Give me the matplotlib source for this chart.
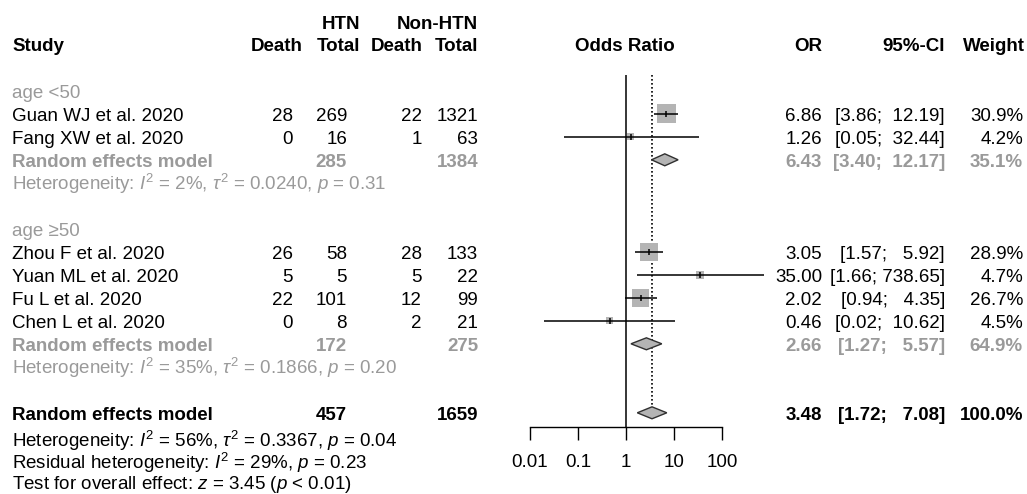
# Forest plot: hypertension and death, subgroups by age
import numpy as np
import matplotlib.pyplot as plt
import matplotlib.transforms as mtransforms

plt.rcParams['font.family'] = ['Liberation Sans', 'DejaVu Sans']
plt.rcParams['mathtext.fontset'] = 'custom'
plt.rcParams['mathtext.rm'] = 'Liberation Sans'
plt.rcParams['mathtext.it'] = 'Liberation Sans:italic'
plt.rcParams['mathtext.bf'] = 'Liberation Sans:bold'

# Study level data
studies = ["Guan WJ et al. 2020", "Fang XW et al. 2020", "Zhou F et al. 2020",
           "Yuan ML et al. 2020", "Fu L et al. 2020", "Chen L et al. 2020"]
study_group = [0, 0, 1, 1, 1, 1]
htn_death = [28, 0, 26, 5, 22, 0]
htn_total = [269, 16, 58, 5, 101, 8]
non_death = [22, 1, 28, 5, 12, 2]
non_total = [1321, 63, 133, 22, 99, 21]
or_est = [6.86, 1.26, 3.05, 35.00, 2.02, 0.46]
ci_lo = [3.86, 0.05, 1.57, 1.66, 0.94, 0.02]
ci_hi = [12.19, 32.44, 5.92, 738.65, 4.35, 10.62]
weight = [30.9, 4.2, 28.9, 4.7, 26.7, 4.5]

# Subgroup summaries
groups = ["age <50", "age \u226550"]
sub_htn_total = [285, 172]
sub_non_total = [1384, 275]
sub_or = [6.43, 2.66]
sub_lo = [3.40, 1.27]
sub_hi = [12.17, 5.57]
sub_weight = [35.1, 64.9]
sub_i2 = [2, 35]
sub_tau2 = ["0.0240", "0.1866"]
sub_p = ["0.31", "0.20"]

# Overall summary
all_htn_total = 457
all_non_total = 1659
all_or = 3.48
all_lo = 1.72
all_hi = 7.08
all_weight = 100.0
all_i2, all_tau2, all_p = 56, "0.3367", "0.04"
resid_i2, resid_p = 29, "0.23"
test_z, test_p = "3.45", "0.01"

tick_vals = [0.01, 0.1, 1, 10, 100]
tick_labels = ["0.01", "0.1", "1", "10", "100"]

# Row layout
row = 0
label_rows, study_rows, sub_rows, het_rows = [], [0] * len(studies), [], []
for g in range(len(groups)):
    label_rows.append(row)
    row += 1
    for k in range(len(studies)):
        if study_group[k] == g:
            study_rows[k] = row
            row += 1
    sub_rows.append(row)
    het_rows.append(row + 1)
    row += 3
overall_row = row

W, H = 1027, 494
STEP = 23.0
Y0 = 90.8
AXIS_Y = 426.7
fig = plt.figure(figsize=(W / 100, H / 100), dpi=100)
ax = fig.add_axes([530 / W, (H - AXIS_Y) / H, 192 / W, AXIS_Y / H])
ax.set_xscale('log')
ax.set_xlim(0.01, 100)
ax.set_ylim((AXIS_Y - Y0) / STEP, -Y0 / STEP)
for s in ['top', 'right', 'left']:
    ax.spines[s].set_visible(False)
ax.spines['bottom'].set_bounds(0.01, 100)
ax.spines['bottom'].set_linewidth(1.0)
ax.set_xticks(tick_vals)
ax.set_xticklabels(tick_labels)
ax.minorticks_off()
ax.set_yticks([])
ax.tick_params(axis='x', length=9, width=1.0, pad=11, labelsize=13.5)
ax.patch.set_alpha(0)

GRAY = '#9a9a9a'
BOX = '#b4b4b4'

# Reference line and overall estimate line
top = -0.69
ax.vlines(1, top, (AXIS_Y - Y0) / STEP, color='black', lw=1.1, clip_on=False)
ax.vlines(all_or, top, overall_row - 0.26, color='black', lw=1.2,
          linestyles=(0, (1, 1.4)), clip_on=False)

# Study boxes and CIs
side = 19 * 0.72 * np.sqrt(np.array(weight) / 30.9)
ax.scatter(or_est, study_rows, marker='s', s=side ** 2, color=BOX,
           linewidths=0, zorder=2, clip_on=False)
ax.hlines(study_rows, ci_lo, ci_hi, color='black', lw=1.1, zorder=3, clip_on=False)
ax.scatter(or_est, study_rows, marker='|', s=20, color='black',
           linewidths=1.1, zorder=4, clip_on=False)


def diamond(est, lo, hi, r):
    h = 0.26
    ax.fill([lo, est, hi, est], [r, r - h, r, r + h], facecolor=BOX,
            edgecolor='#303030', lw=1.0, zorder=3, clip_on=False)


for g in range(len(groups)):
    diamond(sub_or[g], sub_lo[g], sub_hi[g], sub_rows[g])
diamond(all_or, all_lo, all_hi, overall_row)

# Text columns
trans = mtransforms.blended_transform_factory(fig.transFigure, ax.transData)
FS = 13.5
BASE = 0.3


def put(px, r, s, ha='right', color='black', weight='normal'):
    ax.text(px / W, r + BASE, s, transform=trans, ha=ha, va='baseline',
            fontsize=FS, color=color, fontweight=weight)


up_w = max(len(f"{v:.2f}") for v in ci_hi + sub_hi + [all_hi])


def ci_text(lo, hi):
    return f"[{lo:.2f}; {hi:>{up_w}.2f}]"


# Headers
put(360, -3.0, "HTN", weight='bold')
put(478, -3.0, "Non-HTN", weight='bold')
hr = -2.05
put(12, hr, "Study", ha='left', weight='bold')
put(303, hr, "Death", weight='bold')
put(360, hr, "Total", weight='bold')
put(423, hr, "Death", weight='bold')
put(478, hr, "Total", weight='bold')
put(625, hr, "Odds Ratio", ha='center', weight='bold')
put(822, hr, "OR", weight='bold')
put(945, hr, "95%-CI", weight='bold')
put(1025, hr, "Weight", weight='bold')

for k, r in enumerate(study_rows):
    put(12, r, studies[k], ha='left')
    put(293, r, str(htn_death[k]))
    put(347, r, str(htn_total[k]))
    put(422, r, str(non_death[k]))
    put(478, r, str(non_total[k]))
    put(822, r, f"{or_est[k]:.2f}")
    put(945, r, ci_text(ci_lo[k], ci_hi[k]))
    put(1023, r, f"{weight[k]:.1f}%")

for g in range(len(groups)):
    put(12, label_rows[g], groups[g], ha='left', color=GRAY)
    r = sub_rows[g]
    put(12, r, "Random effects model", ha='left', color=GRAY, weight='bold')
    put(347, r, str(sub_htn_total[g]), color=GRAY, weight='bold')
    put(478, r, str(sub_non_total[g]), color=GRAY, weight='bold')
    put(822, r, f"{sub_or[g]:.2f}", color=GRAY, weight='bold')
    put(945, r, ci_text(sub_lo[g], sub_hi[g]), color=GRAY, weight='bold')
    put(1023, r, f"{sub_weight[g]:.1f}%", color=GRAY, weight='bold')
    put(12, het_rows[g], rf"Heterogeneity: $I^2$ = {sub_i2[g]}%, $\tau^2$ = {sub_tau2[g]}, $p$ = {sub_p[g]}",
        ha='left', color=GRAY)

r = overall_row
put(12, r, "Random effects model", ha='left', weight='bold')
put(347, r, str(all_htn_total), weight='bold')
put(478, r, str(all_non_total), weight='bold')
put(822, r, f"{all_or:.2f}", weight='bold')
put(945, r, ci_text(all_lo, all_hi), weight='bold')
put(1023, r, f"{all_weight:.1f}%", weight='bold')
put(12, r + 1.2, rf"Heterogeneity: $I^2$ = {all_i2}%, $\tau^2$ = {all_tau2}, $p$ = {all_p}", ha='left')
put(12, r + 2.15, rf"Residual heterogeneity: $I^2$ = {resid_i2}%, $p$ = {resid_p}", ha='left')
put(12, r + 3.0, rf"Test for overall effect: $z$ = {test_z} ($p$ < {test_p})", ha='left')

fig.savefig('out.png', dpi=100)
